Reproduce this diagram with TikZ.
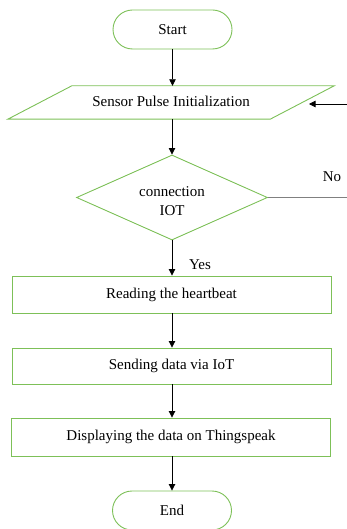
\documentclass[tikz,border=0pt]{standalone}
\usepackage{fontspec}
\setmainfont{Liberation Serif}
\usetikzlibrary{shapes.geometric,shapes.misc,arrows.meta,calc}
\definecolor{fgreen}{RGB}{125,192,88}
\definecolor{fgray}{RGB}{128,128,128}
\tikzset{
  txt/.style={font=\fontsize{15}{18}\selectfont},
  term/.style={rounded rectangle, draw=fgreen, line width=0.9pt, minimum width=119pt, minimum height=39pt, inner sep=0pt, txt},
  procbox/.style={rectangle, draw=fgreen, line width=0.9pt, minimum width=319pt, inner sep=0pt, txt},
  decbox/.style={diamond, draw=fgreen, line width=0.9pt, minimum width=191pt, minimum height=85pt, aspect=2.25, inner sep=0pt, align=center, txt},
  iobox/.style={rectangle, draw=none, minimum width=326pt, minimum height=33pt, inner sep=0pt, txt},
  flow/.style={draw=black, line width=0.8pt, -{Triangle[length=6.5pt,width=6.5pt]}},
  lbl/.style={inner sep=0pt, txt}
}
\begin{document}
\begin{tikzpicture}[x=1pt,y=-1pt]
\useasboundingbox (0,0) rectangle (347,529);
\node[term] (start) at (172.5,29.5) {Start};
\node[iobox] (pulse) at (171,102.5) {\raisebox{2pt}{Sensor Pulse Initialization}};
\draw[fgreen, line width=0.9pt] ($(pulse.north west)+(64,0)$) -- (pulse.north east) -- ($(pulse.south east)+(-64,0)$) -- (pulse.south west) -- cycle;
\node[decbox] (conn) at (172,197.5) {\raisebox{-4pt}[\height][\depth]{\shortstack{connection\\[6pt]IOT}}};
\node[procbox, minimum height=37pt] (read) at (171.5,294.5) {Reading the heartbeat};
\node[procbox, minimum height=36pt] (send) at (171.5,366) {Sending data via IoT};
\node[procbox, minimum height=38pt] (disp) at (171,437) {Displaying the data on Thingspeak};
\node[term] (end) at (172,510.5) {End};
\coordinate (rin) at (347,104);
\coordinate (rtip) at (309,104);
\coordinate (rout) at (347,197.5);
\draw[flow] (start.south) -- (start.south |- pulse.north);
\draw[flow] (pulse.south -| conn.north) -- (conn.north);
\draw[flow] (conn.south) -- (conn.south |- read.north);
\draw[flow] (read.south -| conn.south) -- (conn.south |- send.north);
\draw[flow] (send.south -| conn.south) -- (conn.south |- disp.north);
\draw[flow] (disp.south -| conn.south) -- (conn.south |- end.north);
\draw[flow] (rin) -- (rtip);
\draw[fgray, line width=1.1pt] (conn.east) -- (rout);
\node[lbl] (no) at (332,177) {No};
\node[lbl] (yes) at (200,265) {Yes};
\end{tikzpicture}
\end{document}
